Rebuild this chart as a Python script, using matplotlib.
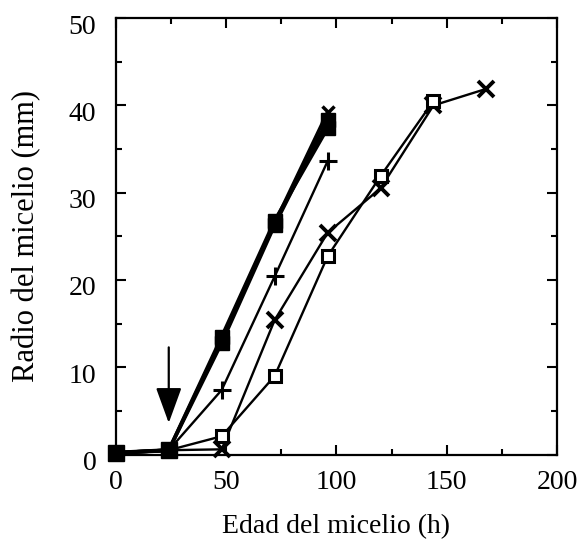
import matplotlib
matplotlib.use('Agg')
import matplotlib.pyplot as plt
import matplotlib.transforms as mtrans
from matplotlib.ticker import MultipleLocator

plt.rcParams['font.family'] = ['Liberation Serif', 'DejaVu Serif']

# Edad del micelio (h)
t_corto = [0, 24, 48, 72, 96]
t_largo = [0, 24, 48, 72, 96, 120, 144, 168]
t_cuad = [0, 24, 48, 72, 96, 120, 144]

# Radio del micelio (mm)
r_lleno_a = [0.2, 0.5, 12.8, 26.3, 38.3]
r_lleno_b = [0.2, 0.5, 13.5, 26.8, 37.4]
r_cruz_a = [0.2, 0.5, 13.2, 26.5, 39.2]
r_mas = [0.2, 0.5, 7.4, 20.4, 33.6]
r_cruz = [0.2, 0.5, 0.6, 15.4, 25.4, 30.5, 40.0, 41.9]
r_cuad = [0.2, 0.5, 2.1, 9.0, 22.7, 31.9, 40.5]

fig = plt.figure(figsize=(5.82, 5.49), dpi=100)
ax = fig.add_axes([0.199, 0.172, 0.758, 0.795])

# los dos primeros puntos son comunes: solo se ve el cuadrado lleno
desde2 = slice(2, None)

# linea gruesa (varias series superpuestas)
ax.plot(t_corto, r_lleno_a, color='black', lw=2.6, marker='s', ms=10, mfc='black', clip_on=False)
ax.plot(t_corto, r_lleno_b, color='black', lw=2.6, marker='s', ms=10, mfc='black', clip_on=False)
ax.plot(t_corto, r_cruz_a, color='black', lw=2.6, marker='x', ms=9, mew=2.5, markevery=desde2)

ax.plot(t_corto, r_mas, color='black', lw=1.7, marker='+', ms=13, mew=2.2, markevery=desde2)
ax.plot(t_largo, r_cruz, color='black', lw=1.7, marker='x', ms=11, mew=2.8, markevery=desde2,
        clip_on=False)
ax.plot(t_cuad, r_cuad, color='black', lw=1.7, marker='s', ms=9, mfc='white', mew=2.2,
        markevery=desde2)
# puntos comunes (cuadrados llenos por encima)
ax.plot(t_corto[:2], r_lleno_a[:2], color='black', lw=3, marker='s', ms=11, mfc='black',
        clip_on=False, zorder=5)

# flecha
ax.annotate('', xy=(24, 3.3), xytext=(24, 12.6),
            arrowprops=dict(arrowstyle='-|>,head_length=2.2,head_width=0.8',
                            color='black', lw=1.6))

ax.set_xlim(0, 200)
ax.set_ylim(0, 50)
ax.xaxis.set_major_locator(MultipleLocator(50))
ax.xaxis.set_minor_locator(MultipleLocator(25))
ax.yaxis.set_major_locator(MultipleLocator(10))
ax.yaxis.set_minor_locator(MultipleLocator(5))
ax.tick_params(which='both', direction='in', top=True, right=True, width=1.5, labelsize=20)
ax.tick_params(which='major', length=7)
ax.tick_params(which='minor', length=4)
ax.tick_params(axis='x', pad=11)
ax.tick_params(axis='y', pad=14)
for s in ax.spines.values():
    s.set_linewidth(1.6)

# etiquetas del eje y algo desplazadas hacia abajo, como en el original
desp = mtrans.ScaledTranslation(0, -6 / 100, fig.dpi_scale_trans)
for lab in ax.get_yticklabels():
    lab.set_transform(lab.get_transform() + desp)
ax.get_xticklabels()[0].set_transform(
    ax.get_xticklabels()[0].get_transform() + mtrans.ScaledTranslation(-8 / 100, 0, fig.dpi_scale_trans))

ax.set_xlabel('Edad del micelio (h)', fontsize=20, labelpad=14)
ax.set_ylabel('Radio del micelio (mm)', fontsize=22, labelpad=20)

fig.savefig('out.png', dpi=100)
